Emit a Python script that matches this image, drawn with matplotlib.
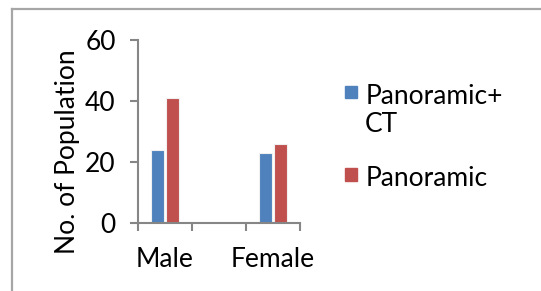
import matplotlib.pyplot as plt
from matplotlib.lines import Line2D
from matplotlib.patches import Rectangle

# data
categories = ["Male", "", "Female"]
panoramic_ct = [24, None, 23]
panoramic = [41, None, 26]
series_names = ["Panoramic+\nCT", "Panoramic"]
colors = ["#4F81BD", "#C0504D"]
yticks = [0, 20, 40, 60]

plt.rcParams['font.family'] = ['Lato', 'DejaVu Sans']
FS = 19

fig = plt.figure(figsize=(5.41, 2.91), dpi=100)
ax = fig.add_axes([0.255, 0.2337, 0.2995, 0.6288])

w = 0.25
gap = 0.02
for i, (a, b) in enumerate(zip(panoramic_ct, panoramic)):
    if a is None:
        continue
    ax.bar(i - w / 2 - gap / 2, a, width=w, color=colors[0],
           edgecolor="#f0f0f0", linewidth=0.8)
    ax.bar(i + w / 2 + gap / 2, b, width=w, color=colors[1],
           edgecolor="#f0f0f0", linewidth=0.8)

ax.set_xlim(-0.5, len(categories) - 0.5)
ax.set_ylim(0, 60)
ax.set_yticks(yticks)
ax.set_xticks([i - 0.5 for i in range(len(categories) + 1)])
ax.set_xticklabels([])
ax.set_xticks(range(len(categories)), minor=True)
ax.set_xticklabels(categories, minor=True)

for s in ["top", "right"]:
    ax.spines[s].set_visible(False)
for s in ["left", "bottom"]:
    ax.spines[s].set_color("#868686")
    ax.spines[s].set_linewidth(1.5)

ax.tick_params(axis="y", length=6, width=1.5, color="#868686", labelsize=FS, pad=10)
ax.tick_params(axis="x", which="major", length=6, width=1.5, color="#868686")
ax.tick_params(axis="x", which="minor", length=0, labelsize=FS, pad=17)
ax.set_ylabel("No. of Population", fontsize=FS)
ax.yaxis.set_label_coords(-0.36, 0.39)

# legend drawn Excel-style: square next to the first line of each label
leg_x = 0.638
leg_y = [0.684, 0.40]
for name, c, y in zip(series_names, colors, leg_y):
    fig.add_artist(Rectangle((leg_x, y - 0.021), 0.022, 0.042, color=c,
                             transform=fig.transFigure))
    fig.text(leg_x + 0.037, y + 0.028, name, fontsize=FS, va="top", ha="left",
             linespacing=1.15)

# chart border (top and left visible)
fig.add_artist(Line2D([0.022, 1.0], [0.969, 0.969], color="#a6a6a6", lw=1.6,
                      transform=fig.transFigure))
fig.add_artist(Line2D([0.022, 0.022], [0.0, 0.969], color="#a6a6a6", lw=1.6,
                      transform=fig.transFigure))

fig.savefig("out.png", dpi=100)
